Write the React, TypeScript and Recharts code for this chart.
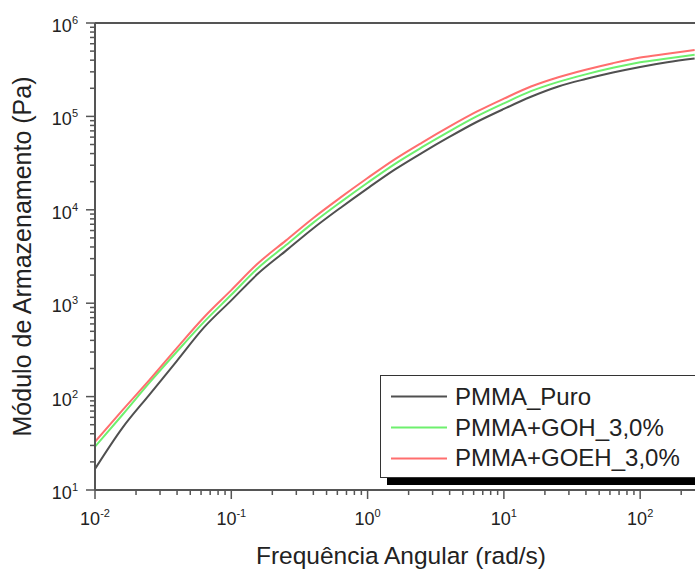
import { LineChart, Line, XAxis, YAxis, ReferenceLine, Legend } from 'recharts';

// angular frequency (rad/s), 5 points per decade
const freq = [0.01, 0.0158, 0.0251, 0.0398, 0.0631, 0.1, 0.158, 0.251, 0.398, 0.631, 1, 1.58, 2.51, 3.98, 6.31, 10, 15.8, 25.1, 39.8, 63.1, 100, 158, 251];

// storage modulus G' (Pa)
const puro = [16.8, 45.7, 105, 240, 550, 1072, 2089, 3631, 6310, 10470, 16980, 26920, 40740, 60260, 87100, 120200, 162200, 208900, 251200, 295100, 338800, 380200, 416900];
const goh = [29.1, 63.1, 141, 302, 631, 1230, 2399, 4169, 7244, 12020, 19500, 30900, 46770, 69180, 100000, 138000, 186200, 234400, 281800, 331100, 380200, 416900, 457100];
const goeh = [32.9, 70.8, 151, 331, 708, 1380, 2692, 4677, 8128, 13490, 21880, 34670, 52480, 77620, 112200, 154900, 208900, 263000, 316200, 371500, 426600, 467700, 512900];

const xMajor = [0.01, 0.1, 1, 10, 100];
const yMajor = [10, 100, 1000, 10000, 100000, 1000000];

const X_DOMAIN: [number, number] = [0.01, 252.5];
const Y_DOMAIN: [number, number] = [10, 1000000];

const series = [
  { key: 'puro', name: 'PMMA_Puro', color: '#505050' },
  { key: 'goh', name: 'PMMA+GOH_3,0%', color: '#6ef06e' },
  { key: 'goeh', name: 'PMMA+GOEH_3,0%', color: '#ff6e6e' },
];

const data = freq.map((f, i) => ({ f, puro: puro[i], goh: goh[i], goeh: goeh[i] }));

const withMinor = (majors: number[], max: number) => {
  const out: number[] = [];
  majors.forEach((d) => {
    for (let m = 1; m <= 9; m++) {
      const v = d * m;
      if (v <= max * 1.0001) out.push(v);
    }
  });
  return out;
};

const xTicks = withMinor(xMajor, X_DOMAIN[1]);
const yTicks = withMinor(yMajor, Y_DOMAIN[1]);

const FONT = '"Liberation Sans", Arial, sans-serif';
const AXIS = '#555';
const TEXT = '#222';

const isMajor = (v: number) => {
  const l = Math.log10(v);
  return Math.abs(l - Math.round(l)) < 1e-6;
};

const XTick = (props: any) => {
  const { x, y, payload } = props;
  const v = payload.value;
  const major = isMajor(v);
  return (
    <g>
      <line x1={x} x2={x} y1={y} y2={y + (major ? 9 : 5)} stroke={AXIS} strokeWidth={1.5} />
      {major && (
        <text x={x} y={y + 35} textAnchor="middle" fontSize={18} fill={TEXT} fontFamily={FONT}>
          <tspan>10</tspan>
          <tspan dy={-8} fontSize={11}>{Math.round(Math.log10(v))}</tspan>
        </text>
      )}
    </g>
  );
};

const YTick = (props: any) => {
  const { x, y, payload } = props;
  const v = payload.value;
  const major = isMajor(v);
  return (
    <g>
      <line x1={x - (major ? 9 : 5)} x2={x} y1={y} y2={y} stroke={AXIS} strokeWidth={1.5} />
      {major && (
        <text x={x - 17} y={y + 9} textAnchor="end" fontSize={18} fill={TEXT} fontFamily={FONT}>
          <tspan>10</tspan>
          <tspan dy={-8} fontSize={11}>{Math.round(Math.log10(v))}</tspan>
        </text>
      )}
    </g>
  );
};

const XTitle = (props: any) => {
  const { viewBox } = props;
  return (
    <text x={viewBox.x + viewBox.width / 2 + 6} y={564} textAnchor="middle" fontSize={24.5} fill={TEXT} fontFamily={FONT}>
      Frequência Angular (rad/s)
    </text>
  );
};

const YTitle = (props: any) => {
  const { viewBox } = props;
  const cy = viewBox.y + viewBox.height / 2;
  return (
    <text x={31} y={cy} transform={`rotate(-90, 31, ${cy})`} textAnchor="middle" fontSize={25} fill={TEXT} fontFamily={FONT}>
      Módulo de Armazenamento (Pa)
    </text>
  );
};

const LegendBox = () => (
  <div
    style={{
      width: 330,
      height: 103,
      boxSizing: 'border-box',
      border: '1.5px solid #333',
      background: '#fff',
      boxShadow: '7px 7px 0 #000',
    }}
  >
    <svg width={330} height={100}>
      {series.map((s, i) => (
        <g key={s.key}>
          <line x1={10} x2={66} y1={20.5 + i * 31} y2={20.5 + i * 31} stroke={s.color} strokeWidth={2} />
          <text x={74} y={29 + i * 30.5} fontSize={24} fill={TEXT} fontFamily={FONT}>
            {s.name}
          </text>
        </g>
      ))}
    </svg>
  </div>
);

export default function App() {
  return (
    <div style={{ position: 'absolute', left: 0, top: 0, width: 695, height: 569, overflow: 'hidden', background: '#fff' }}>
      <LineChart width={695} height={569} data={data} margin={{ top: 23, right: 0, bottom: 0, left: 0 }} style={{ fontFamily: FONT }}>
        <XAxis
          dataKey="f"
          type="number"
          scale="log"
          domain={X_DOMAIN}
          allowDataOverflow
          ticks={xTicks}
          interval={0}
          height={79}
          tickSize={0}
          tickMargin={0}
          tickLine={false}
          axisLine={{ stroke: AXIS, strokeWidth: 2 }}
          tick={<XTick />}
          label={{ content: <XTitle /> }}
        />
        <YAxis
          type="number"
          scale="log"
          domain={Y_DOMAIN}
          allowDataOverflow
          ticks={yTicks}
          interval={0}
          width={95}
          tickSize={0}
          tickMargin={0}
          tickLine={false}
          axisLine={{ stroke: AXIS, strokeWidth: 2 }}
          tick={<YTick />}
          label={{ content: <YTitle /> }}
        />
        <ReferenceLine y={1000000} stroke={AXIS} strokeWidth={2} />
        <Legend
          layout="vertical"
          align="center"
          verticalAlign="middle"
          content={<LegendBox />}
          wrapperStyle={{ position: 'absolute', left: 380, top: 375, width: 330, height: 103 }}
        />
        {series.map((s) => (
          <Line
            key={s.key}
            type="monotone"
            dataKey={s.key}
            name={s.name}
            stroke={s.color}
            strokeWidth={2}
            dot={false}
            isAnimationActive={false}
          />
        ))}
      </LineChart>
    </div>
  );
}
